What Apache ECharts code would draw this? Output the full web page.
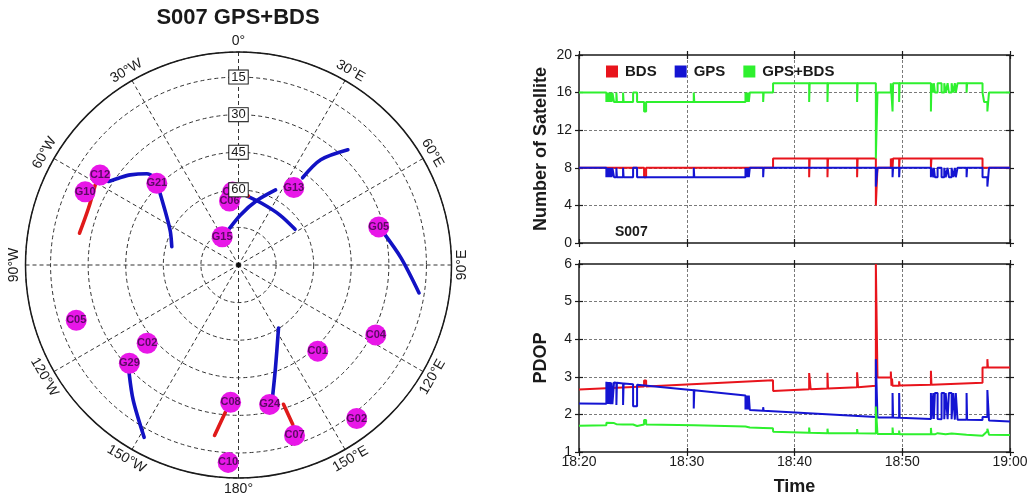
<!DOCTYPE html>
<html>
<head>
<meta charset="utf-8">
<script src="https://cdn.jsdelivr.net/npm/echarts@6/dist/echarts.min.js"></script>
<style>
  html, body { margin: 0; padding: 0; background: #fff; }
  #chart { width: 1032px; height: 500px; }
</style>
</head>
<body>
<div id="chart"></div>
<script>
// ---------------- Sky plot data (azimuth / elevation in degrees) ----------------
const satNames = ['G10', 'C12', 'G21', 'C20', 'C06', 'G13', 'G15', 'G05', 'C05', 'C02', 'G29', 'C04', 'C01', 'C08', 'G24', 'C07', 'G02', 'C10'];
const satAz    = [295.5, 303, 315, 355.3, 352, 35.5, 330, 74.8, 251.2, 229.4, 228, 117, 137.4, 183.3, 167.4, 161.8, 142.4, 183];
const satEl    = [22.2, 24.1, 43.9, 60.8, 64.2, 52, 77, 32, 21.6, 42, 31.4, 28.5, 43.3, 35.1, 33, 18.4, 12.7, 11.1];

// satellite tracks: [azimuth, elevation] samples
const trackSystem = ['BDS', 'GPS', 'GPS', 'GPS', 'GPS', 'GPS', 'BDS', 'GPS', 'GPS', 'GPS', 'BDS', 'BDS'];
const trackPoints = [
  [[281.3, 25.3], [290.7, 26.0], [299.2, 24.5]],                                   // C12
  [[302.7, 28.3], [305.9, 30.9], [309.8, 33.8], [314.9, 38.4], [316.3, 41.9]],      // G10
  [[312.4, 47.6], [303.9, 55.5], [295.9, 59.8], [285.3, 62.4]],                    // G21
  [[36.3, 46.8], [38.0, 36.7], [43.5, 26.6]],                                      // G13
  [[330, 77], [340, 76], [2.3, 70], [15.7, 63.4], [26.3, 56.6]],                   // G15
  [[5.3, 62], [20.6, 63.7], [39.7, 64.1], [57.7, 63.3]],                           // G20
  [[2.6, 61.6], [8.1, 62.2]],                                                      // C20
  [[77.1, 30.9], [87.5, 25.1], [98.8, 17.1]],                                      // G05
  [[225.3, 28.6], [217.9, 21.6], [208.7, 11.6]],                                   // G29
  [[165.3, 36.2], [160.1, 46.6], [147.6, 60.2]],                                   // G24
  [[185.1, 31], [188, 21.3]],                                                      // C08
  [[162.1, 31.6], [161.2, 22.8]]                                                   // C07
];

const azTicks      = [0, 30, 60, 90, 120, 150, 180, 210, 240, 270, 300, 330];
const azTickLabels = ['0°', '30°E', '60°E', '90°E', '120°E', '150°E', '180°', '150°W', '120°W', '90°W', '60°W', '30°W'];
const elTicks      = [15, 30, 45, 60];
const elMask = 5;                 // outer circle = elevation mask

// ---------------- Time series (minutes after 18:20) ----------------
const timeTicks = ['18:20', '18:30', '18:40', '18:50', '19:00'];

const bdsCount = [[0,8],[6.04,7],[6.23,8],[18.01,9],[21.36,7],[21.41,9],[23.06,7],[23.11,9],[25.81,7],[25.86,9],
  [27.55,4],[27.7,8],[28.94,9],[29.0,8],[29.05,9],[29.1,8],[29.15,9],[29.71,8],[29.76,9],[32.66,8],[32.71,9],[37.45,8],[40,8]];

const gpsCount = [[0,8],[2.54,7],[2.62,8],[2.7,7],[2.78,8],[2.86,7],[2.94,8],[3.02,7],[3.1,8],[3.25,7],[3.47,8],[3.52,7],
  [4.09,8],[4.14,7],[5.02,8],[5.39,7],[10.65,8],[10.7,7],[15.45,8],[15.5,7],[15.57,8],[15.63,7],[15.7,8],[15.76,7],[15.85,8],
  [17.09,7],[17.14,8],[27.55,6],[27.7,8],[29.1,7],[29.15,8],[29.71,7],[29.76,8],[32.66,7],[32.71,8],[32.88,7],[32.93,8],
  [33.03,7],[33.28,8],[33.65,7],[33.9,8],[34.03,7],[34.21,8],[34.33,7],[34.58,8],[34.73,7],[34.88,8],[34.97,7],[35.13,8],
  [35.97,7],[36.02,8],[37.45,7],[37.9,6],[38.05,8],[40,8]];

const allCount = [[0,16],[2.54,15],[2.62,16],[2.7,15],[2.78,16],[2.86,15],[2.94,16],[3.02,15],[3.1,16],[3.25,15],[3.47,16],[3.52,15],
  [4.09,16],[4.14,15],[5.02,16],[5.39,15],[6.04,14],[6.23,15],[10.65,16],[10.7,15],[15.45,16],[15.5,15],[15.57,16],[15.63,15],
  [15.7,16],[15.76,15],[15.85,16],[17.09,15],[17.14,16],[18.01,17],[21.36,15],[21.41,17],[23.06,15],[23.11,17],[25.81,15],[25.86,17],
  [27.55,9],[27.7,16],[28.94,17],[29.1,14],[29.15,17],[29.71,15],[29.76,17],[32.66,14],[32.71,17],[32.88,16],[32.93,17],
  [33.03,16],[33.28,17],[33.65,16],[33.9,17],[34.03,16],[34.21,17],[34.33,16],[34.58,17],[34.73,16],[34.88,17],[34.97,16],[35.13,17],
  [35.97,16],[36.02,17],[37.45,16],[37.6,15],[37.9,14],[38.05,16],[40,16]];

const bdsPdop = [[0,2.66],[6.04,2.74],[6.04,2.9],[6.23,2.9],[6.23,2.74],[18.0,2.91],[18.02,2.62],[21.36,2.67],[21.36,3.1],[21.5,3.08],
  [21.5,2.67],[23.06,2.69],[23.06,3.11],[23.11,3.11],[23.11,2.69],[25.81,2.72],[25.81,3.12],[25.9,3.1],[25.9,2.72],[27.55,2.76],
  [27.55,6.0],[27.7,6.0],[27.7,2.98],[28.94,2.99],[28.94,3.14],[29.0,3.14],[29.0,2.76],[29.05,2.95],[29.1,2.76],[29.71,2.76],
  [29.71,2.88],[29.76,2.88],[29.76,2.77],[32.66,2.79],[32.66,3.16],[32.71,3.16],[32.71,2.79],[37.45,2.84],[37.45,3.25],[37.9,3.25],
  [37.9,3.47],[37.95,3.47],[37.95,3.25],[40,3.25]];

const gpsPdop = [[0,2.29],[2.54,2.28],[2.54,2.87],[2.62,2.87],[2.62,2.28],[2.7,2.28],[2.7,2.86],[2.78,2.86],[2.78,2.28],[2.86,2.28],
  [2.86,2.86],[2.94,2.86],[2.94,2.27],[3.02,2.27],[3.02,2.85],[3.1,2.85],[3.1,2.27],[3.25,2.27],[3.25,2.85],[3.47,2.84],[3.47,2.25],
  [3.52,2.25],[3.52,2.84],[4.09,2.82],[4.09,2.25],[4.14,2.25],[4.14,2.82],[5.02,2.8],[5.02,2.22],[5.39,2.22],[5.39,2.79],[10.65,2.64],
  [10.65,2.16],[10.7,2.16],[10.7,2.64],[15.45,2.5],[15.45,2.13],[15.5,2.13],[15.5,2.5],[15.57,2.5],[15.57,2.13],[15.63,2.13],[15.63,2.5],
  [15.7,2.5],[15.7,2.13],[15.76,2.13],[15.76,2.5],[15.85,2.5],[15.85,2.12],[17.09,2.1],[17.09,2.19],[17.14,2.19],[17.14,2.1],
  [27.55,1.93],[27.55,3.47],[27.7,3.47],[27.7,1.92],[29.1,1.92],[29.1,2.57],[29.15,2.57],[29.15,1.92],[29.71,1.91],[29.71,2.57],
  [29.76,2.57],[29.76,1.91],[32.66,1.88],[32.66,2.57],[32.71,2.57],[32.71,1.88],[32.88,1.88],[32.88,2.57],[32.93,2.57],[32.93,1.88],
  [33.03,1.88],[33.03,2.57],[33.28,2.57],[33.28,1.88],[33.65,1.87],[33.65,2.57],[33.9,2.57],[33.9,1.87],[34.03,1.87],[34.03,2.57],
  [34.21,2.57],[34.21,1.87],[34.33,1.87],[34.33,2.57],[34.58,2.57],[34.58,1.87],[34.73,1.87],[34.73,2.57],[34.88,2.57],[34.88,1.86],
  [34.97,1.86],[34.97,2.57],[35.13,2.57],[35.13,1.86],[35.97,1.86],[35.97,2.57],[36.02,2.57],[36.02,1.86],[37.45,1.85],[37.45,1.93],
  [37.9,1.93],[37.9,2.65],[38.0,2.62],[38.05,1.84],[40,1.81]];

const allPdop = [[0,1.7],[2.54,1.71],[2.54,1.78],[3.25,1.77],[3.25,1.74],[3.47,1.74],[3.47,1.7],[3.52,1.7],[3.52,1.74],[4.09,1.73],
  [4.09,1.7],[4.14,1.7],[4.14,1.73],[5.02,1.73],[5.02,1.69],[5.39,1.69],[5.39,1.73],[6.04,1.73],[6.04,1.85],[6.23,1.85],[6.23,1.73],
  [10.65,1.71],[10.65,1.66],[10.7,1.66],[10.7,1.71],[15.45,1.68],[15.85,1.65],[17.09,1.64],[17.09,1.68],[17.14,1.68],[17.14,1.64],
  [18.0,1.63],[18.02,1.54],[21.36,1.51],[21.36,1.65],[21.41,1.65],[21.41,1.51],[23.06,1.5],[23.06,1.62],[23.11,1.62],[23.11,1.5],
  [25.81,1.5],[25.81,1.61],[25.86,1.61],[25.86,1.5],[27.55,1.49],[27.55,2.21],[27.7,2.21],[27.7,1.48],[29.1,1.48],[29.1,1.65],
  [29.15,1.65],[29.15,1.48],[29.71,1.48],[29.71,1.57],[29.76,1.57],[29.76,1.47],[32.66,1.47],[32.66,1.64],[32.71,1.64],[32.71,1.47],
  [33.03,1.47],[33.03,1.5],[33.28,1.5],[33.28,1.47],[34.03,1.47],[34.03,1.49],[34.58,1.49],[34.58,1.46],[35.97,1.46],[35.97,1.48],
  [36.02,1.46],[37.45,1.43],[37.7,1.5],[37.9,1.55],[37.9,1.62],[38.0,1.6],[38.05,1.46],[40,1.45]];

// ---------------- Styling ----------------
const FONT = '"Liberation Sans", Arial, Helvetica, sans-serif';
const C_BDS = '#e8141c', C_GPS = '#1414d2', C_ALL = '#2ef02e';
const TRACK_COLOR = { BDS: '#e01a1a', GPS: '#1212c4' };
const INK = '#1a1a1a';

const chart = echarts.init(document.getElementById('chart'), null, { renderer: 'canvas' });

// polar radius value = zenith distance (90 - elevation)
const zen = el => 90 - el;

const tickStyle = { show: true, inside: false, length: 8, lineStyle: { color: INK, width: 1.2 } };
const gridSplit = { show: true, showMinLine: false, showMaxLine: false, lineStyle: { color: '#7a7a7a', type: [3, 2], width: 1 } };
const nameStyle = { fontSize: 18, fontWeight: 'bold', color: INK, fontFamily: FONT };

function xAxesFor(g, withLabels) {
  return [
    { gridIndex: g, type: 'value', min: 0, max: 40, interval: 10, position: 'bottom', offset: -4,
      axisLine: { show: false, onZero: false }, axisTick: tickStyle,
      axisLabel: { show: withLabels, margin: 7, fontSize: 14, color: INK, fontFamily: FONT,
                   formatter: v => timeTicks[Math.round(v / 10)] },
      splitLine: gridSplit,
      name: withLabels ? 'Time' : '', nameLocation: 'middle', nameGap: 30, nameTextStyle: nameStyle },
    { gridIndex: g, type: 'value', min: 0, max: 40, interval: 10, position: 'top', offset: -4,
      axisLine: { show: false, onZero: false }, axisTick: tickStyle,
      axisLabel: { show: false }, splitLine: { show: false } }
  ];
}
function yAxesFor(g, min, max, interval, name) {
  return [
    { gridIndex: g, type: 'value', min, max, interval, position: 'left', offset: -4,
      axisLine: { show: false, onZero: false }, axisTick: tickStyle,
      axisLabel: { margin: 11, fontSize: 14, color: INK, fontFamily: FONT },
      splitLine: gridSplit,
      name, nameLocation: 'middle', nameGap: 33, nameTextStyle: nameStyle },
    { gridIndex: g, type: 'value', min, max, interval, position: 'right', offset: -4,
      axisLine: { show: false, onZero: false }, axisTick: tickStyle,
      axisLabel: { show: false }, splitLine: { show: false } }
  ];
}

function timeLine(name, color, data, axisIdx, step) {
  return { name, type: 'line', xAxisIndex: axisIdx, yAxisIndex: axisIdx, data,
           step: step ? 'end' : false, showSymbol: false, symbol: 'none',
           color, lineStyle: { color, width: 2 }, z: 3, silent: true };
}

const series = [];

// sky plot tracks
trackPoints.forEach((pts, i) => {
  const col = TRACK_COLOR[trackSystem[i]];
  series.push({ type: 'line', coordinateSystem: 'polar', polarIndex: 0, smooth: 0.3,
    data: pts.map(p => [zen(p[1]), p[0]]), showSymbol: false, symbol: 'none',
    lineStyle: { color: col, width: 3.6, cap: 'round' }, z: 2, silent: true });
});

// satellites
series.push({ type: 'scatter', coordinateSystem: 'polar', polarIndex: 0, symbolSize: 21,
  data: satNames.map((n, i) => ({ name: n, value: [zen(satEl[i]), satAz[i]] })),
  itemStyle: { color: '#e817e8', opacity: 1 },
  label: { show: true, position: 'inside', formatter: p => p.name, fontSize: 11, fontWeight: 'bold',
           color: '#5a0a62', fontFamily: FONT },
  z: 3, silent: true });

// zenith dot
series.push({ type: 'scatter', coordinateSystem: 'polar', polarIndex: 0, symbolSize: 5,
  data: [[0, 0]], itemStyle: { color: '#000' }, z: 3, silent: true });

// azimuth labels, written tangentially just outside the mask circle
series.push({ type: 'custom', coordinateSystem: 'polar', polarIndex: 0, z: 4, silent: true,
  data: azTicks.map(a => [zen(elMask) + 4.4, a]),
  renderItem: (params, api) => {
    const p = api.coord([api.value(0), api.value(1)]);
    const az = api.value(1);
    const rot = ((az + 90) % 180) - 90;
    return { type: 'text', x: p[0], y: p[1], rotation: -rot * Math.PI / 180,
      style: { text: azTickLabels[params.dataIndex], align: 'center', verticalAlign: 'middle',
               font: '14px ' + FONT, fill: INK } };
  } });

// elevation ring labels (boxed) along north
series.push({ type: 'custom', coordinateSystem: 'polar', polarIndex: 0, z: 5, silent: true,
  data: elTicks.map(e => [zen(e), 0]),
  renderItem: (params, api) => {
    const p = api.coord([api.value(0), api.value(1)]);
    return { type: 'text', x: p[0], y: p[1],
      style: { text: String(elTicks[params.dataIndex]), align: 'center', verticalAlign: 'middle',
               font: '13px ' + FONT, fill: INK, backgroundColor: '#fff', borderColor: INK, borderWidth: 1,
               padding: [0, 2, 0, 2], lineHeight: 13 } };
  } });

// satellite count panel
series.push(timeLine('BDS', C_BDS, bdsCount, 0, true));
series.push(timeLine('GPS', C_GPS, gpsCount, 0, true));
series.push(timeLine('GPS+BDS', C_ALL, allCount, 0, true));
// PDOP panel
series.push(timeLine('BDS', C_BDS, bdsPdop, 2, false));
series.push(timeLine('GPS', C_GPS, gpsPdop, 2, false));
series.push(timeLine('GPS+BDS', C_ALL, allPdop, 2, false));

const option = {
  animation: false,
  backgroundColor: '#fff',
  textStyle: { fontFamily: FONT },
  title: [
    { text: 'S007 GPS+BDS', left: 238, top: 7, padding: 0, textAlign: 'center',
      textStyle: { fontSize: 22, fontWeight: 'bold', color: INK, fontFamily: FONT } },
    { text: 'S007', left: 615, top: 225, padding: 0,
      textStyle: { fontSize: 14, fontWeight: 'bold', color: INK, fontFamily: FONT } }
  ],
  legend: {
    left: 606, top: 64, padding: 0, itemWidth: 12, itemHeight: 12, itemGap: 18, icon: 'rect',
    data: ['BDS', 'GPS', 'GPS+BDS'], selectedMode: false,
    textStyle: { fontSize: 15, fontWeight: 'bold', color: INK, fontFamily: FONT, padding: [0, 0, 0, 2] }
  },
  polar: { center: [238.5, 265], radius: 213 },
  angleAxis: {
    polarIndex: 0, type: 'value', min: 0, max: 360, interval: 30, startAngle: 90, clockwise: true,
    axisLine: { show: true, lineStyle: { color: INK, width: 1.5 } },
    axisTick: { show: false }, axisLabel: { show: false },
    splitLine: { show: true, lineStyle: { color: '#333', type: [4, 3], width: 1 } }
  },
  radiusAxis: {
    polarIndex: 0, type: 'value', min: 0, max: zen(elMask), interval: 15,
    axisLine: { show: false }, axisTick: { show: false }, axisLabel: { show: false },
    splitLine: { show: true, lineStyle: { color: '#333', type: [4, 3], width: 1 } }
  },
  grid: [
    { left: 579, top: 55, width: 431, height: 188, show: true, borderColor: INK, borderWidth: 1.5, containLabel: false },
    { left: 579, top: 264, width: 431, height: 188, show: true, borderColor: INK, borderWidth: 1.5, containLabel: false }
  ],
  xAxis: [...xAxesFor(0, false), ...xAxesFor(1, true)],
  yAxis: [...yAxesFor(0, 0, 20, 4, 'Number of Satellite'), ...yAxesFor(1, 1, 6, 1, 'PDOP')],
  series
};

chart.setOption(option);
</script>
</body>
</html>
